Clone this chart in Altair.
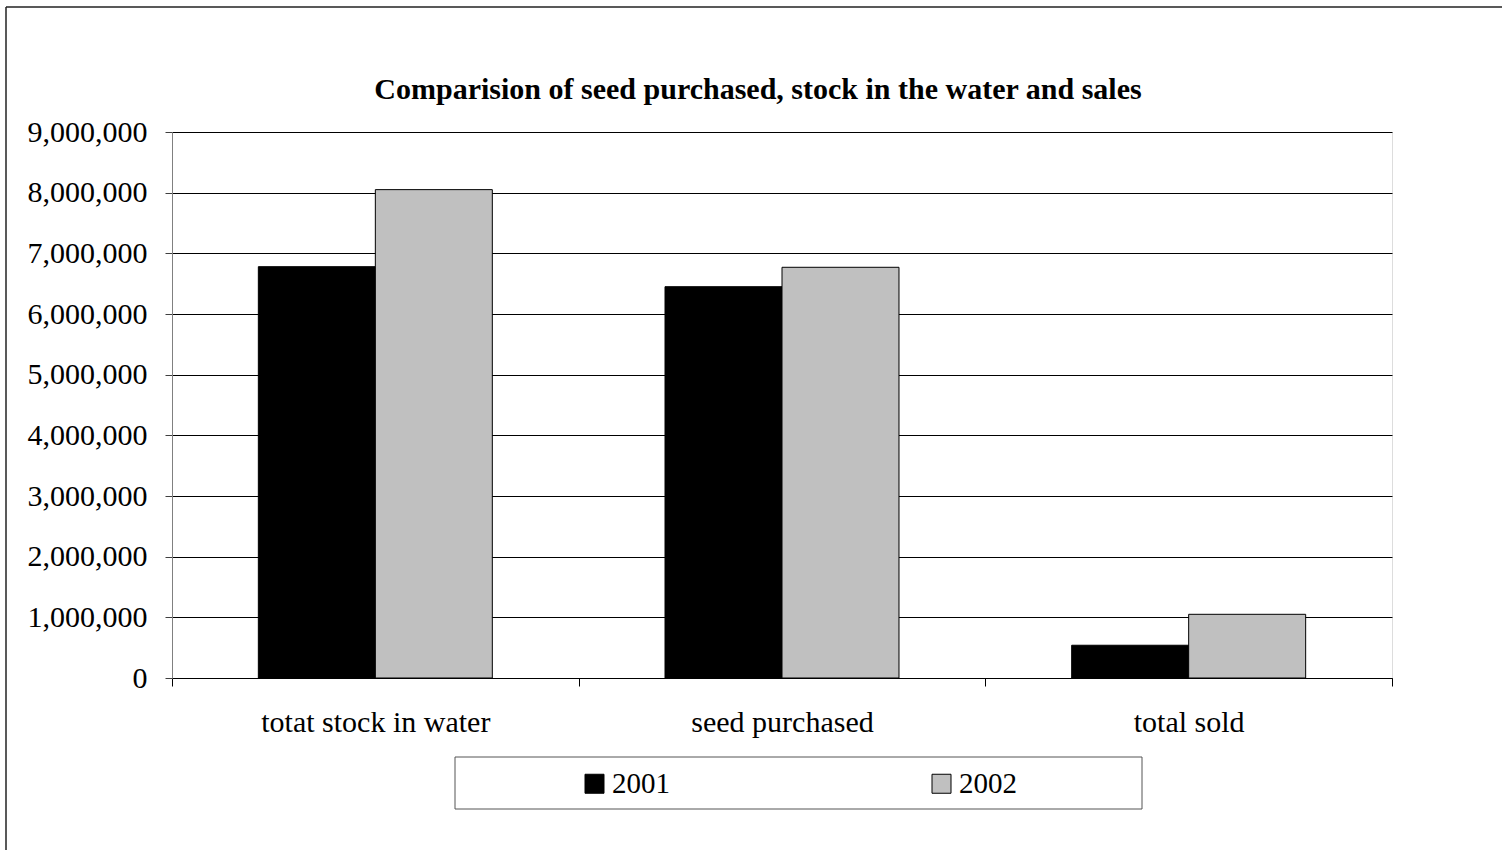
import altair as alt
import pandas as pd

categories = ["totat stock in water", "seed purchased", "total sold"]
years = ["2001", "2002"]
values_2001 = [6780000, 6450000, 540000]
values_2002 = [8050000, 6770000, 1050000]
title_text = "Comparision of seed purchased, stock in the water and sales"

rows = []
for c, a, b in zip(categories, values_2001, values_2002):
    rows.append({"category": c, "year": "2001", "value": a})
    rows.append({"category": c, "year": "2002", "value": b})
df = pd.DataFrame(rows)

FONT = "Liberation Serif"

bars = alt.Chart(df).mark_bar(stroke="#000000", strokeWidth=1).encode(
    x=alt.X("category:N", sort=categories,
            scale=alt.Scale(paddingInner=0, paddingOuter=0),
            axis=alt.Axis(title=None, labelAngle=0, tickBand="extent", tickSize=8,
                          labelPadding=21, labelFontSize=30, labelFont=FONT, labelLimit=0,
                          labelColor="#000000", domainColor="#000000",
                          tickColor="#000000", grid=False)),
    xOffset=alt.XOffset("year:N", sort=years,
                        scale=alt.Scale(paddingInner=0, paddingOuter=0.738)),
    y=alt.Y("value:Q", scale=alt.Scale(domain=[0, 9000000], nice=False),
            axis=alt.Axis(title=None, values=list(range(0, 9000001, 1000000)), format=",d",
                          tickSize=7, labelPadding=18, labelFontSize=30, labelFont=FONT,
                          labelColor="#000000", domainColor="#808080", tickColor="#404040",
                          gridColor="#000000", gridWidth=1, gridOpacity=1)),
    color=alt.Color("year:N", sort=years,
                    scale=alt.Scale(domain=years, range=["#000000", "#C0C0C0"]),
                    legend=alt.Legend(title=None, orient="none", direction="horizontal",
                                      legendX=408, legendY=637, columns=2, columnPadding=257,
                                      symbolType="square", symbolSize=361, symbolStrokeColor="#000000",
                                      symbolStrokeWidth=1, labelOffset=3,
                                      labelFontSize=29, labelFont=FONT, labelColor="#000000",
                                      padding=0)),
)

one = alt.Data(values=[{}])
frame_top = alt.Chart(one).mark_rule(color="#222222", strokeWidth=1.5).encode(
    x=alt.value(-166), x2=alt.value(1400), y=alt.value(-125))
frame_left = alt.Chart(one).mark_rule(color="#222222", strokeWidth=1.5).encode(
    x=alt.value(-166), y=alt.value(-125), y2=alt.value(800))
legend_box = alt.Chart(one).mark_rect(fill="#ffffff", stroke="#555555", strokeWidth=1).encode(
    x=alt.value(283), x2=alt.value(970), y=alt.value(625), y2=alt.value(677))
title = alt.Chart(alt.Data(values=[{"t": title_text}])).mark_text(
    font=FONT, fontSize=30, fontWeight="bold", color="#000000",
    align="center", baseline="alphabetic").encode(
    text="t:N", x=alt.value(586), y=alt.value(-33))

chart = alt.layer(frame_top, frame_left, legend_box, title, bars).properties(
    width=1220, height=546,
    padding={"left": 172, "top": 132, "right": 110, "bottom": 172},
    autosize=alt.AutoSizeParams(type="none"),
).configure_view(stroke=None).configure(background="#ffffff")

chart.save("out.html", embed_options={"renderer": "svg", "actions": False})
